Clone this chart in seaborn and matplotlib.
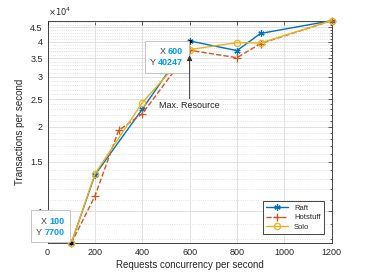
import pandas as pd
import matplotlib
matplotlib.use('Agg')
import matplotlib.pyplot as plt
import seaborn as sns
from matplotlib.patches import Rectangle
from matplotlib.transforms import IdentityTransform
from matplotlib.ticker import FixedLocator, NullFormatter

# Dati
raft_x = [100, 200, 400, 600, 800, 900, 1200]
raft_y = [7700, 13460, 23040, 40247, 37200, 42800, 47500]
hot_x = [100, 200, 300, 400, 600, 800, 900, 1200]
hot_y = [7700, 11320, 19370, 22200, 37300, 35100, 39400, 47500]
solo_x = [100, 200, 400, 600, 800, 900, 1200]
solo_y = [7700, 13580, 24300, 37500, 39700, 39600, 47500]

y_ticks = [10000, 15000, 20000, 25000, 30000, 35000, 40000, 45000]
y_tick_labels = ['1', '1.5', '2', '2.5', '3', '3.5', '4', '4.5']
x_ticks = [0, 200, 400, 600, 800, 1000, 1200]

df = pd.concat([
    pd.DataFrame({'x': raft_x, 'y': raft_y, 'serie': 'Raft'}),
    pd.DataFrame({'x': hot_x, 'y': hot_y, 'serie': 'Hotstuff'}),
    pd.DataFrame({'x': solo_x, 'y': solo_y, 'serie': 'Solo'}),
])

sns.set_style('white')
plt.rcParams['font.family'] = ['Liberation Sans', 'DejaVu Sans']

fig = plt.figure(figsize=(3.66, 2.74), dpi=100)
ax = fig.add_axes([0.130, 0.112, 0.776, 0.8125])

# Stile delle serie (colori MATLAB)
stili = {
    'Raft': dict(color='#0072BD', linestyle='-', marker=(6, 2, 0), markersize=4.5, mfc='#0072BD'),
    'Hotstuff': dict(color='#D95319', linestyle='--', marker='+', markersize=5.5),
    'Solo': dict(color='#EDB120', linestyle='-', marker='o', markersize=4.5, mfc='none'),
}
for nome in ['Raft', 'Hotstuff', 'Solo']:
    s = stili[nome]
    sns.lineplot(data=df[df['serie'] == nome], x='x', y='y', ax=ax, label=nome,
                 color=s['color'], linestyle=s['linestyle'], marker=s['marker'],
                 markersize=s['markersize'], markerfacecolor=s.get('mfc', s['color']),
                 markeredgecolor=s['color'], markeredgewidth=0.9, linewidth=1.0,
                 clip_on=False, zorder=3)

ax.set_yscale('log')
ax.set_xlim(0, 1200)
ax.set_ylim(7700, 47500)
ax.yaxis.set_major_locator(FixedLocator(y_ticks))
ax.set_yticklabels(y_tick_labels)
ax.yaxis.set_minor_locator(FixedLocator(list(range(8000, 48000, 1000))))
ax.yaxis.set_minor_formatter(NullFormatter())
ax.set_xticks(x_ticks)

grigio = '#262626'
for sp in ax.spines.values():
    sp.set_color(grigio)
    sp.set_linewidth(0.6)
ax.tick_params(which='both', direction='in', top=True, right=True, colors=grigio,
               labelsize=6.5, width=0.5)
ax.tick_params(which='major', length=3)
ax.tick_params(which='minor', length=1.5)
ax.grid(True, which='major', color='#dddddd', linewidth=0.6)
ax.grid(True, which='minor', axis='y', color='#d8d8d8', linestyle=':', linewidth=0.6)
ax.set_axisbelow(True)

ax.set_xlabel('Requests concurrency per second', fontsize=7, color=grigio, labelpad=2)
ax.set_ylabel('Transactions per second', fontsize=7, color=grigio, labelpad=4)
ax.text(0.0, 1.012, r'$\times10^{4}$', transform=ax.transAxes, fontsize=6,
        color=grigio, ha='left', va='bottom')

leg = ax.legend(loc='lower right', fontsize=5.5, frameon=True, fancybox=False,
                edgecolor=grigio, framealpha=1, handlelength=2.8, borderpad=0.4,
                labelspacing=0.3, bbox_to_anchor=(0.985, 0.025))
leg.get_frame().set_linewidth(0.6)

# freccia Max. Resource
ax.annotate('', xy=(600, 35800), xytext=(600, 25100),
            arrowprops=dict(arrowstyle='-|>', color='#303030', lw=0.6,
                            mutation_scale=8, shrinkA=0, shrinkB=0), zorder=8)
ax.text(600, 23800, 'Max. Resource', fontsize=6.5, color=grigio, ha='center', va='center')

# Data tip: riquadro bianco, etichette grigie e valori blu
blu = '#0099FF'
fig.canvas.draw()
renderer = fig.canvas.get_renderer()
for px, py, sopra in [(600, 40247, False), (100, 7700, True)]:
    ax.plot([px], [py], 's', color='black', markersize=2, zorder=6, clip_on=False)
    xa, ya = ax.transData.transform((px, py))
    altezza = 32
    top = ya + 1 + altezza if sopra else ya
    destra = xa - 1
    bordi = []
    for i, (lab, val) in enumerate([('X', str(px)), ('Y', str(py))]):
        yc = top - 11 - 11 * i
        v = fig.text(destra - 6, yc, val, transform=None, ha='right', va='center',
                     fontsize=6.5, fontweight='bold', color=blu, zorder=9)
        vb = v.get_window_extent(renderer)
        e = fig.text(vb.x0 - 2, yc, lab, transform=None, ha='right', va='center',
                     fontsize=6.5, color='#404040', zorder=9)
        bordi.append(e.get_window_extent(renderer).x0)
    sinistra = min(bordi) - 5
    ax.add_patch(Rectangle((sinistra, top - altezza), destra - sinistra, altezza,
                           transform=IdentityTransform(), fc='white', ec='#bbbbbb',
                           lw=0.6, zorder=7, clip_on=False))

fig.savefig('out.png', dpi=100)
